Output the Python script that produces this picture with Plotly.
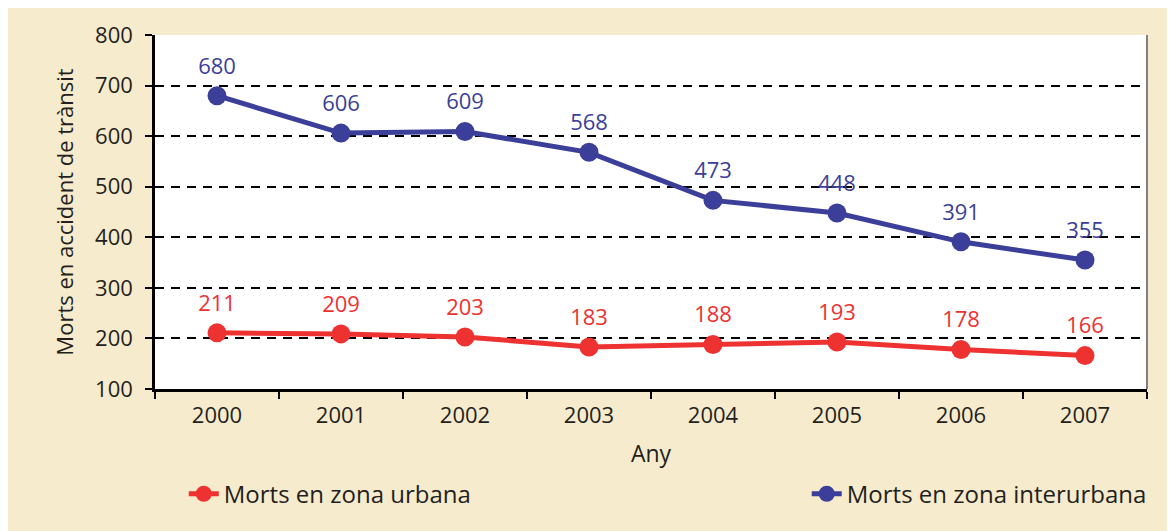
import plotly.graph_objects as go

years = ["2000", "2001", "2002", "2003", "2004", "2005", "2006", "2007"]
urbana = [211, 209, 203, 183, 188, 193, 178, 166]
interurbana = [680, 606, 609, 568, 473, 448, 391, 355]

RED = "#ee3131"
BLUE = "#3c3f99"
BEIGE = "#f7ebcd"
FONT = "Open Sans"

fig = go.Figure()

fig.add_trace(go.Scatter(
    x=years, y=urbana, mode="lines+markers", name="Morts en zona urbana",
    line=dict(color=RED, width=5),
    marker=dict(color=RED, size=19),
    legend="legend",
))
fig.add_trace(go.Scatter(
    x=years, y=interurbana, mode="lines+markers", name="Morts en zona interurbana",
    line=dict(color=BLUE, width=5),
    marker=dict(color=BLUE, size=19),
    legend="legend2",
))

# value labels above the points (invisible markers push the text up)
for vals, col in [(urbana, RED), (interurbana, BLUE)]:
    fig.add_trace(go.Scatter(
        x=years, y=vals, mode="markers+text", text=[str(v) for v in vals],
        textposition="top center",
        textfont=dict(color=col, size=22, family=FONT),
        marker=dict(size=25, opacity=0),
        showlegend=False, hoverinfo="skip",
    ))

fig.update_layout(
    width=1175, height=531,
    margin=dict(l=147, r=36, t=27, b=150, autoexpand=False),
    paper_bgcolor=BEIGE,
    plot_bgcolor="white",
    font=dict(family=FONT, size=20, color="#231f20"),
    showlegend=True,
    legend=dict(x=0.029, y=-0.297, xanchor="left", yanchor="middle",
                bgcolor="rgba(0,0,0,0)", font=dict(size=24)),
    legend2=dict(x=0.657, y=-0.297, xanchor="left", yanchor="middle",
                 bgcolor="rgba(0,0,0,0)", font=dict(size=24)),
    shapes=[
        # right border of plot
        dict(type="line", xref="paper", yref="paper", x0=1, x1=1, y0=0, y1=1,
             line=dict(color="#808080", width=2)),
    ],
)

fig.update_xaxes(
    type="category", range=[-0.5, 7.5], automargin=False,
    showline=True, linecolor="black", linewidth=2.5,
    ticks="outside", tickson="boundaries", ticklen=7, tickwidth=2, tickcolor="black",
    tickfont=dict(size=22), ticklabelstandoff=5,
    showgrid=False,
    title=dict(text="Any", standoff=18, font=dict(size=23)),
)
fig.update_yaxes(
    range=[100, 800], dtick=100, automargin=False,
    showline=True, linecolor="black", linewidth=2.5,
    ticks="outside", ticklen=7, tickwidth=2, tickcolor="black",
    tickfont=dict(size=22), ticklabelstandoff=8,
    showgrid=True, gridcolor="black", gridwidth=2, griddash="9px,7px",
    zeroline=False,
    title=dict(text="Morts en accident de trànsit", standoff=16, font=dict(size=22)),
)

fig.write_html("out.html")
